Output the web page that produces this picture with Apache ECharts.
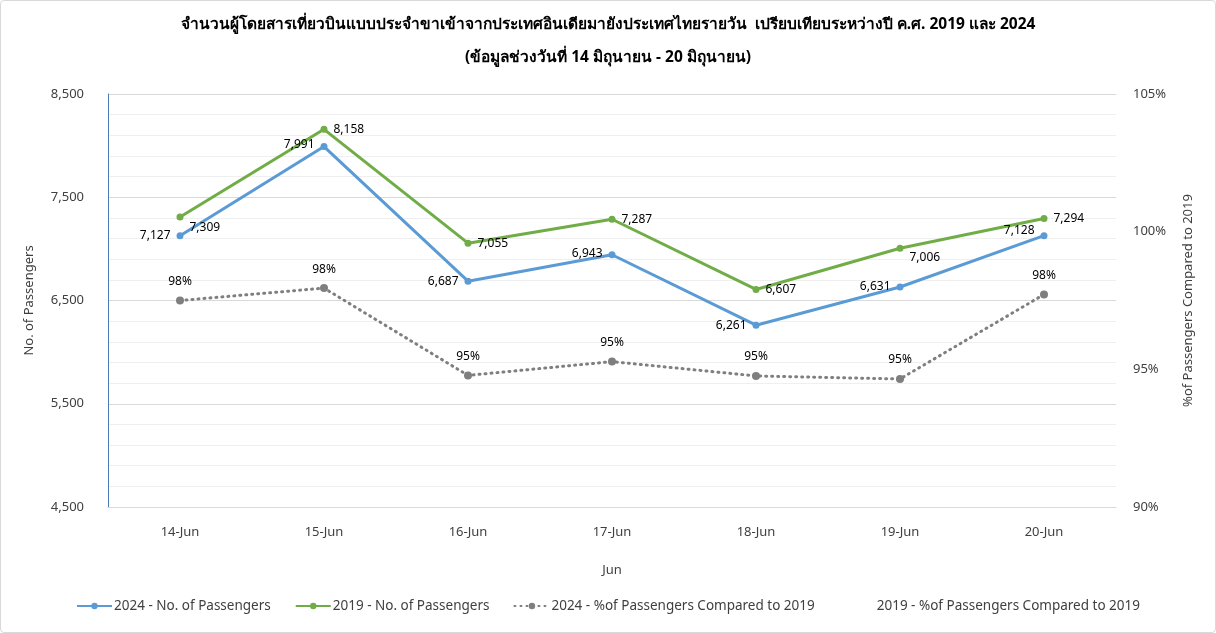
<!DOCTYPE html>
<html>
<head>
<meta charset="utf-8">
<script src="https://cdn.jsdelivr.net/npm/echarts@6/dist/echarts.min.js"></script>
<style>
  html, body { margin: 0; padding: 0; background: #fff; }
  #chart { width: 1216px; height: 633px; box-sizing: border-box; border: 1px solid #d9d9d9; border-radius: 4px; }
</style>
</head>
<body>
<div id="chart"></div>
<script>
const days = ['14-Jun', '15-Jun', '16-Jun', '17-Jun', '18-Jun', '19-Jun', '20-Jun'];
const pax2024 = [7127, 7991, 6687, 6943, 6261, 6631, 7128];
const pax2019 = [7309, 8158, 7055, 7287, 6607, 7006, 7294];
const pct2024 = [97.5, 97.95, 94.78, 95.28, 94.76, 94.65, 97.72];
const leftTicks = [4500, 8500, 1000];
const rightTicks = [90, 105, 5];

const font = '"Noto Sans", sans-serif';
const textColor = '#404040';

const el = document.getElementById('chart');
const chart = echarts.init(el);

const fmt = v => v.toLocaleString('en-US');

// label offsets, picked by eye from the reference
const off2024 = [[0, 0], [0, -2], [0, 0], [0, -1], [0, 0], [0, 0], [0, -5]];
const off2019 = [[0, 11], [0, 0], [0, 0], [0, 0], [0, 0], [0, 9], [0, 0]];

const option = {
    animation: false,
    textStyle: {fontFamily: font},
    title: {
        text: 'จำนวนผู้โดยสารเที่ยวบินแบบประจำขาเข้าจากประเทศอินเดียมายังประเทศไทยรายวัน  เปรียบเทียบระหว่างปี ค.ศ. 2019 และ 2024\n(ข้อมูลช่วงวันที่ 14 มิถุนายน - 20 มิถุนายน)',
        left: 'center',
        top: 2,
        textStyle: {fontSize: 15.5, fontWeight: 'bold', color: '#000', lineHeight: 33, fontFamily: font}
    },
    legend: {
        bottom: 14,
        left: 'center',
        itemWidth: 35,
        itemHeight: 8,
        itemGap: 24,
        textStyle: {fontSize: 13.5, color: textColor, padding: [0, 0, 0, -3]},
        data: ['2024 - No. of Passengers', '2019 - No. of Passengers',
            '2024 - %of Passengers Compared to 2019', '2019 - %of Passengers Compared to 2019']
    },
    grid: {left: 107, right: 99, top: 93, bottom: 125, containLabel: false},
    xAxis: {
        type: 'category',
        data: days,
        name: 'Jun',
        nameLocation: 'middle',
        nameGap: 57,
        nameTextStyle: {fontSize: 13, color: textColor},
        axisLine: {lineStyle: {color: '#d9d9d9'}},
        axisTick: {show: false},
        axisLabel: {fontSize: 13, color: textColor, margin: 19}
    },
    yAxis: [{
        type: 'value',
        min: leftTicks[0],
        max: leftTicks[1],
        interval: leftTicks[2],
        name: 'No. of Passengers',
        nameLocation: 'middle',
        nameRotate: 90,
        nameGap: 72,
        nameTextStyle: {fontSize: 13, color: textColor},
        axisLine: {show: true, lineStyle: {color: '#4a7ab8', width: 1}},
        axisTick: {show: false},
        axisLabel: {fontSize: 13, color: textColor, margin: 24, formatter: v => fmt(v)},
        splitLine: {lineStyle: {color: '#d9d9d9'}},
        minorTick: {show: false, splitNumber: 5},
        minorSplitLine: {show: true, lineStyle: {color: '#efefef'}}
    }, {
        type: 'value',
        min: rightTicks[0],
        max: rightTicks[1],
        interval: rightTicks[2],
        name: '%of Passengers Compared to 2019',
        nameLocation: 'middle',
        nameRotate: 90,
        nameGap: 66,
        nameTextStyle: {fontSize: 13, color: textColor},
        axisLine: {show: false},
        axisTick: {show: false},
        axisLabel: {fontSize: 13, color: textColor, margin: 17, formatter: '{value}%'},
        splitLine: {show: false}
    }],
    series: [{
        name: '2024 - No. of Passengers',
        type: 'line',
        data: pax2024.map((v, i) => ({value: v, label: {offset: off2024[i]}})),
        symbol: 'circle',
        symbolSize: 7,
        color: '#5b9bd5',
        lineStyle: {width: 3},
        label: {show: true, position: 'left', distance: 6, fontSize: 12, color: '#000', formatter: p => fmt(p.value)},
        z: 3
    }, {
        name: '2019 - No. of Passengers',
        type: 'line',
        data: pax2019.map((v, i) => ({value: v, label: {offset: off2019[i]}})),
        symbol: 'circle',
        symbolSize: 7,
        color: '#70ad47',
        lineStyle: {width: 3},
        label: {show: true, position: 'right', distance: 6, fontSize: 12, color: '#000', formatter: p => fmt(p.value)},
        z: 3
    }, {
        name: '2024 - %of Passengers Compared to 2019',
        type: 'line',
        yAxisIndex: 1,
        data: pct2024,
        symbol: 'circle',
        symbolSize: 8,
        color: '#7f7f7f',
        lineStyle: {width: 3, type: [1, 5], cap: 'round'},
        label: {show: true, position: 'top', distance: 9, fontSize: 12, color: '#000', formatter: p => Math.round(p.value) + '%'}
    }, {
        name: '2019 - %of Passengers Compared to 2019',
        type: 'line',
        yAxisIndex: 1,
        data: [],
        symbol: 'none',
        color: 'rgba(0,0,0,0)',
        lineStyle: {opacity: 0}
    }]
};

chart.setOption(option);

window.addEventListener('resize', chart.resize.bind(chart));
</script>
</body>
</html>
